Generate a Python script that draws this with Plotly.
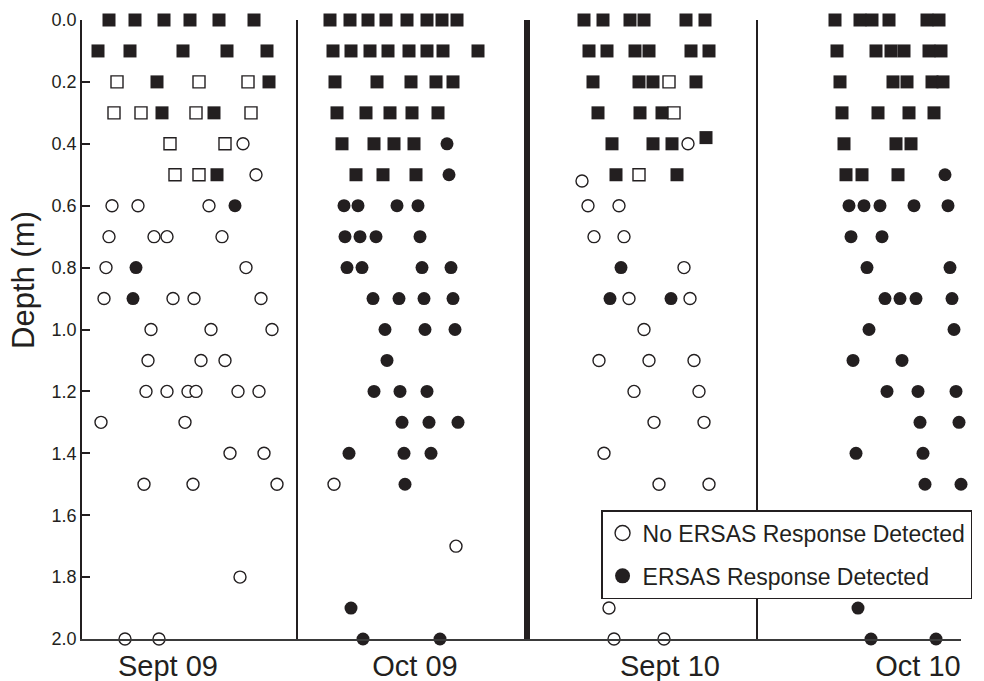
import plotly.graph_objects as go

# Lateral position of each sample (arbitrary horizontal units) and its depth (m),
# grouped by marker type: square = shallow probe, circle = deep probe;
# filled = ERSAS response detected, open = no response.

# ---------------- Sept 09 ----------------
s09_fsq_pos = [2.7, 5.3, 8.2, 10.8, 13.7, 17.2, 1.6, 4.8, 10.1, 14.5, 18.5, 7.5, 18.7, 8.0, 13.2, 13.5]
s09_fsq_dep = [0.0, 0.0, 0.0, 0.0, 0.0, 0.0, 0.1, 0.1, 0.1, 0.1, 0.1, 0.2, 0.2, 0.3, 0.3, 0.5]
s09_osq_pos = [3.5, 11.7, 16.6, 3.2, 5.9, 11.4, 16.9, 8.8, 14.3, 9.3, 11.7]
s09_osq_dep = [0.2, 0.2, 0.2, 0.3, 0.3, 0.3, 0.3, 0.4, 0.4, 0.5, 0.5]
s09_fci_pos = [15.3, 5.4, 5.1]
s09_fci_dep = [0.6, 0.8, 0.9]
s09_oci_pos = [16.1, 17.4, 3.0, 5.6, 12.7, 2.7, 7.2, 8.5, 14.0, 2.4, 16.4,
               2.2, 9.1, 11.2, 17.9, 6.9, 12.9, 19.0, 6.6, 11.9, 14.3,
               6.4, 8.5, 10.6, 11.4, 15.6, 17.7, 1.9, 10.3, 14.8, 18.2,
               6.2, 11.1, 19.5, 15.8, 4.3, 7.7]
s09_oci_dep = [0.4, 0.5, 0.6, 0.6, 0.6, 0.7, 0.7, 0.7, 0.7, 0.8, 0.8,
               0.9, 0.9, 0.9, 0.9, 1.0, 1.0, 1.0, 1.1, 1.1, 1.1,
               1.2, 1.2, 1.2, 1.2, 1.2, 1.2, 1.3, 1.3, 1.4, 1.4,
               1.5, 1.5, 1.5, 1.8, 2.0, 2.0]

# ---------------- Oct 09 ----------------
o09_fsq_pos = [24.8, 26.8, 28.6, 30.4, 32.5, 34.5, 36.0, 37.5,
               25.1, 26.9, 28.8, 30.6, 32.7, 34.5, 36.1, 39.6,
               25.3, 29.5, 32.9, 35.4, 37.1,
               25.5, 28.4, 30.8, 33.0, 35.6,
               26.0, 29.2, 31.2, 33.2,
               27.4, 30.1, 33.4]
o09_fsq_dep = [0.0] * 8 + [0.1] * 8 + [0.2] * 5 + [0.3] * 5 + [0.4] * 4 + [0.5] * 3
o09_fci_pos = [36.5, 36.7, 26.2, 27.6, 31.5, 33.6, 26.3, 27.8, 29.4, 33.8,
               26.5, 28.0, 34.0, 36.9, 29.1, 31.7, 34.2, 37.1, 30.3, 34.3, 37.3,
               30.5, 29.2, 31.8, 34.5, 32.0, 34.7, 37.6, 26.7, 32.2, 34.9,
               32.3, 26.9, 28.1, 35.8]
o09_fci_dep = [0.4, 0.5, 0.6, 0.6, 0.6, 0.6, 0.7, 0.7, 0.7, 0.7,
               0.8, 0.8, 0.8, 0.8, 0.9, 0.9, 0.9, 0.9, 1.0, 1.0, 1.0,
               1.1, 1.2, 1.2, 1.2, 1.3, 1.3, 1.3, 1.4, 1.4, 1.4,
               1.5, 1.9, 2.0, 2.0]
o09_oci_pos = [25.2, 37.4]
o09_oci_dep = [1.5, 1.7]

# ---------------- Sept 10 ----------------
s10_fsq_pos = [50.2, 52.1, 54.8, 56.2, 60.4, 62.3,
               50.7, 52.5, 55.3, 56.7, 60.9, 62.7,
               51.1, 55.7, 57.1, 61.4,
               51.6, 55.8, 58.0,
               53.0, 57.1, 59.0, 62.4,
               53.4, 59.5]
s10_fsq_dep = [0.0] * 6 + [0.1] * 6 + [0.2] * 4 + [0.3] * 3 + [0.4, 0.4, 0.4, 0.38] + [0.5, 0.5]
s10_osq_pos = [58.7, 59.2, 55.7]
s10_osq_dep = [0.2, 0.3, 0.5]
s10_fci_pos = [53.9, 52.8, 58.9]
s10_fci_dep = [0.8, 0.9, 0.9]
s10_oci_pos = [60.6, 50.0, 50.6, 53.7, 51.2, 54.2, 60.2, 54.7, 60.8, 56.2,
               51.7, 56.7, 61.2, 55.2, 61.7, 57.2, 62.2, 52.2, 57.7, 62.7,
               52.7, 53.2, 58.2]
s10_oci_dep = [0.4, 0.52, 0.6, 0.6, 0.7, 0.7, 0.8, 0.9, 0.9, 1.0,
               1.1, 1.1, 1.1, 1.2, 1.2, 1.3, 1.3, 1.4, 1.5, 1.5,
               1.9, 2.0, 2.0]

# ---------------- Oct 10 ----------------
o10_fsq_pos = [75.3, 77.8, 79.0, 80.7, 84.5, 85.7,
               75.5, 79.4, 80.9, 82.2, 84.7, 85.9,
               75.8, 81.1, 82.5, 85.0, 86.1,
               76.0, 79.6, 82.7, 85.2,
               76.2, 81.4, 82.9,
               76.4, 78.0, 81.6]
o10_fsq_dep = [0.0] * 6 + [0.1] * 6 + [0.2] * 5 + [0.3] * 4 + [0.4] * 3 + [0.5] * 3
o10_fci_pos = [86.3, 76.7, 78.2, 79.8, 83.2, 86.6, 76.9, 80.0, 78.5, 86.8,
               80.3, 81.8, 83.4, 87.0, 78.7, 87.2, 77.1, 82.0, 80.5, 83.6, 87.4,
               83.8, 87.7, 77.4, 84.1, 84.3, 87.9, 77.6, 78.9, 85.4]
o10_fci_dep = [0.5, 0.6, 0.6, 0.6, 0.6, 0.6, 0.7, 0.7, 0.8, 0.8,
               0.9, 0.9, 0.9, 0.9, 1.0, 1.0, 1.1, 1.1, 1.2, 1.2, 1.2,
               1.3, 1.3, 1.4, 1.4, 1.5, 1.5, 1.9, 2.0, 2.0]

# Campaign labels, their positions, and panel separators
campaigns = ["Sept 09", "Oct 09", "Sept 10", "Oct 10"]
campaign_pos = [8.6, 33.3, 58.8, 83.6]
separators = [21.5, 44.5, 67.5]
separator_widths = [2, 6, 2]
x_extent = [0, 87.9]

depth_ticks = [0.0, 0.2, 0.4, 0.6, 0.8, 1.0, 1.2, 1.4, 1.6, 1.8, 2.0]
depth_labels = [f"{d:.1f}" for d in depth_ticks]

INK = "#231f20"
FONT = "Liberation Sans, Arial, sans-serif"

fsq_pos = s09_fsq_pos + o09_fsq_pos + s10_fsq_pos + o10_fsq_pos
fsq_dep = s09_fsq_dep + o09_fsq_dep + s10_fsq_dep + o10_fsq_dep
osq_pos = s09_osq_pos + s10_osq_pos
osq_dep = s09_osq_dep + s10_osq_dep
fci_pos = s09_fci_pos + o09_fci_pos + s10_fci_pos + o10_fci_pos
fci_dep = s09_fci_dep + o09_fci_dep + s10_fci_dep + o10_fci_dep
oci_pos = s09_oci_pos + o09_oci_pos + s10_oci_pos
oci_dep = s09_oci_dep + o09_oci_dep + s10_oci_dep

fig = go.Figure()

def add_points(xs, ys, symbol, filled, size):
    fig.add_trace(go.Scatter(
        x=xs, y=ys, mode="markers", showlegend=False, cliponaxis=False,
        hoverinfo="skip",
        marker=dict(symbol=symbol, size=size,
                    color=INK if filled else "white",
                    line=dict(color=INK, width=0 if filled else 1.4)),
    ))

add_points(fsq_pos, fsq_dep, "square", True, 13)
add_points(osq_pos, osq_dep, "square", False, 12)
add_points(oci_pos, oci_dep, "circle", False, 12)
add_points(fci_pos, fci_dep, "circle", True, 13)

# Legend entries
fig.add_trace(go.Scatter(
    x=[None], y=[None], mode="markers", name="No ERSAS Response Detected",
    legendgroup="a",
    marker=dict(symbol="circle", size=15, color="white", line=dict(color=INK, width=1.4)),
))
fig.add_trace(go.Scatter(
    x=[None], y=[None], mode="markers", name="ERSAS Response Detected",
    legendgroup="b",
    marker=dict(symbol="circle", size=15, color=INK, line=dict(width=0)),
))

for sx, w in zip(separators, separator_widths):
    fig.add_shape(type="line", xref="x", yref="paper", x0=sx, x1=sx, y0=0, y1=1,
                  line=dict(color=INK, width=w), layer="below")

fig.add_annotation(text="Depth (m)", xref="paper", yref="paper",
                   x=-0.066, y=0.58, xanchor="center", yanchor="middle",
                   textangle=-90, showarrow=False,
                   font=dict(family=FONT, size=31, color=INK))

fig.update_layout(
    width=984, height=681, autosize=False,
    margin=dict(l=82, r=23, t=20, b=42, pad=0, autoexpand=False),
    paper_bgcolor="white", plot_bgcolor="white",
    font=dict(family=FONT, color=INK),
    legend=dict(x=0.5905, y=0.2084, xanchor="left", yanchor="top",
                bgcolor="white", bordercolor=INK, borderwidth=1.5,
                font=dict(family=FONT, size=23, color=INK),
                traceorder="grouped", tracegroupgap=10),
    xaxis=dict(range=x_extent, showgrid=False, zeroline=False, showline=True,
               linecolor="#3a3a3a", linewidth=1.5, ticks="", automargin=False,
               tickvals=campaign_pos, ticktext=campaigns,
               tickfont=dict(family=FONT, size=29, color=INK)),
    yaxis=dict(range=[2.0, 0.0], showgrid=False, zeroline=False, showline=True,
               linecolor=INK, linewidth=1.5, ticks="inside", ticklen=8,
               tickwidth=1.5, tickcolor=INK, automargin=False,
               tickvals=depth_ticks, ticktext=depth_labels,
               tickfont=dict(family=FONT, size=18, color=INK)),
)

fig.write_html("out.html")
